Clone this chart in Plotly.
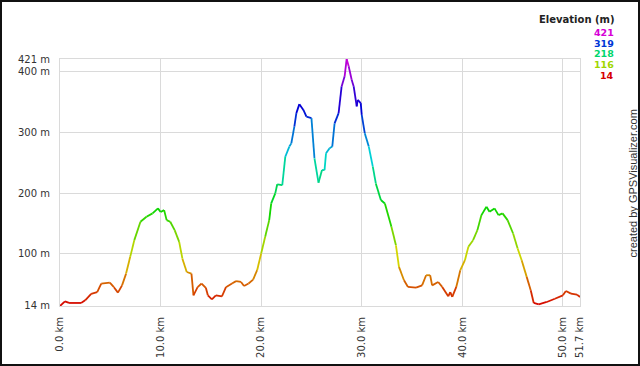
import colorsys
import plotly.graph_objects as go

# ---- data ----
distance_km = [0.0, 0.49, 0.9, 2.1, 2.5, 3.1, 3.7, 4.1, 4.95, 5.36, 5.76, 6.17, 6.57, 6.98, 7.39,
               8.0, 8.6, 9.2, 9.74, 10.0, 10.35, 10.6, 10.96, 11.4, 11.85, 12.17, 12.6, 13.07,
               13.27, 13.68, 14.08, 14.5, 14.7, 15.1, 15.5, 16.1, 16.5, 17.1, 17.5, 18.0, 18.3,
               18.75, 19.2, 19.6, 20.0, 20.4, 20.8, 21.0, 21.4, 21.6, 22.1, 22.4, 22.8, 23.0,
               23.3, 23.5, 23.8, 24.2, 24.5, 25.0, 25.3, 25.7, 26.05, 26.3, 26.45, 26.8, 27.07,
               27.3, 27.7, 28.0, 28.3, 28.5, 28.7, 29.0, 29.2, 29.5, 29.6, 29.9, 30.0, 30.3,
               30.7, 31.1, 31.4, 31.9, 32.3, 32.95, 33.4, 33.7, 34.2, 34.6, 35.4, 36.0, 36.4,
               36.8, 37.0, 37.6, 38.0, 38.6, 38.8, 39.0, 39.4, 39.8, 40.26, 40.6, 41.07, 41.5,
               41.9, 42.4, 42.7, 43.2, 43.6, 44.0, 44.5, 45.05, 45.5, 45.9, 46.4, 46.8, 47.1,
               47.6, 48.4, 49.2, 50.0, 50.3, 50.8, 51.4, 51.7]
elevation_m = [14, 21.7, 19, 19, 23.4, 34, 37, 51, 52.5, 45, 36, 48, 67.4, 95, 122.5,
               152.8, 161, 166.6, 174.8, 169, 172, 155.5, 152.8, 139, 119.7, 92, 70, 67.4,
               31.6, 45, 51, 44, 31.6, 25, 31.6, 30, 45, 51, 55, 53.6, 47,
               51, 57.5, 73, 100.5, 128, 155.5, 183, 199.6, 214.5, 213, 260, 276.7, 282,
               309.7, 331.8, 346.6, 337, 326, 323.5, 257.4, 217.2, 238, 238, 265.7, 274, 276.7,
               315, 331.8, 375.8, 392.4, 421, 409, 386.8, 375.8, 342.8, 353.8, 348.3, 329, 298.7,
               276.7, 243.7, 216, 188.6, 183, 144.5, 114, 78.4, 56.4, 45.4, 44.3, 48, 64.7,
               64.7, 48, 53.6, 45.4, 30, 37, 28.9, 45.4, 73, 89.5, 111.5, 122.5, 139,
               163.8, 177.6, 169.3, 174.8, 163.8, 166.6, 155.5, 133.5, 108.7, 89.5, 62, 40, 19,
               16.8, 20.6, 26, 31.6, 38.8, 34.4, 32.7, 28.9]

x_tick_vals = [0, 10, 20, 30, 40, 50, 51.7]
x_tick_text = ["0.0 km", "10.0 km", "20.0 km", "30.0 km", "40.0 km", "50.0 km", "51.7 km"]
y_tick_vals = [14, 100, 200, 300, 400, 421]
y_tick_text = ["14 m", "100 m", "200 m", "300 m", "400 m", "421 m"]
legend_values = [421, 319, 218, 116, 14]
legend_title = "Elevation (m)"
credit_text = "created by GPSVisualizer.com"

# ---- layout constants ----
W, H = 640, 366
ML, MR, MT, MB = 60, 60, 59, 60
PW, PH = W - ML - MR, H - MT - MB
E_MIN, E_MAX = 14, 421
FONT = "DejaVu Sans, Verdana, sans-serif"


def px_x(px):
    return (px - ML) / PW


def px_y(py):
    return (H - MB - py) / PH


def elev_color(m):
    h = (300.0 * (m - E_MIN) / (E_MAX - E_MIN)) / 360.0
    r, g, b = colorsys.hsv_to_rgb(h, 1.0, 0.84)
    return f"rgb({int(r * 255)},{int(g * 255)},{int(b * 255)})"


fig = go.Figure()
for i in range(len(distance_km) - 1):
    mid = (elevation_m[i] + elevation_m[i + 1]) / 2.0
    fig.add_trace(go.Scatter(
        x=[distance_km[i], distance_km[i + 1]],
        y=[elevation_m[i], elevation_m[i + 1]],
        mode="lines",
        line=dict(color=elev_color(mid), width=1.8),
        showlegend=False,
        hoverinfo="skip",
    ))

tick_font = dict(family=FONT, size=10, color="#333333")

fig.update_xaxes(
    range=[0, 51.7], tickvals=x_tick_vals, ticktext=x_tick_text, tickangle=-90,
    showgrid=True, gridcolor="#dadada", gridwidth=1, zeroline=False,
    showline=True, linecolor="#dadada", linewidth=1, mirror=True,
    ticks="", tickfont=tick_font, ticklabelstandoff=6, automargin=False,
)
fig.update_yaxes(
    range=[E_MIN - 0.01, E_MAX + 0.01], tickvals=y_tick_vals, ticktext=y_tick_text,
    showgrid=True, gridcolor="#dadada", gridwidth=1, zeroline=False,
    showline=True, linecolor="#dadada", linewidth=1, mirror=True,
    ticks="", tickfont=tick_font, ticklabelstandoff=7, automargin=False,
)

annotations = [dict(
    text="<b>" + legend_title + "</b>", xref="paper", yref="paper",
    x=px_x(617), y=px_y(19.5), xanchor="right", yanchor="middle", showarrow=False,
    font=dict(family=FONT, size=10, color="#222222"),
)]
for k, v in enumerate(legend_values):
    annotations.append(dict(
        text="<b>" + str(v) + "</b>", xref="paper", yref="paper",
        x=px_x(616), y=px_y(32.3 + k * 10.7), xanchor="right", yanchor="middle",
        showarrow=False,
        font=dict(family=FONT, size=9.5, color=elev_color(v)),
    ))
annotations.append(dict(
    text=credit_text, xref="paper", yref="paper", textangle=-90,
    x=px_x(632), y=px_y(183.5), xanchor="center", yanchor="middle", showarrow=False,
    font=dict(family="Liberation Sans, Arial, sans-serif", size=11, color="#333333"),
))

fig.update_layout(
    width=W, height=H, autosize=False,
    margin=dict(l=ML, r=MR, t=MT, b=MB, pad=0, autoexpand=False),
    paper_bgcolor="white", plot_bgcolor="white",
    annotations=annotations,
    shapes=[dict(
        type="rect", xref="paper", yref="paper",
        x0=px_x(1), x1=px_x(639), y0=px_y(365), y1=px_y(1),
        line=dict(color="#111111", width=2), fillcolor="rgba(0,0,0,0)", layer="above",
    )],
)

fig.write_html("out.html", config={"displayModeBar": False},
               post_script="document.body.style.margin='0px';")
